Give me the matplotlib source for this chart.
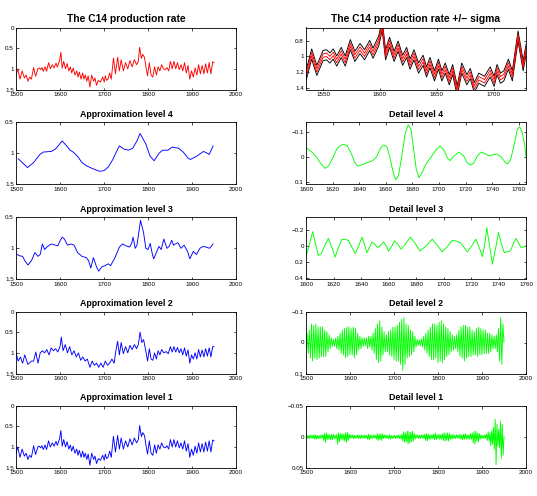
import numpy as np
import matplotlib
matplotlib.use("Agg")
import matplotlib.pyplot as plt

plt.rcParams['font.family'] = ['Liberation Sans', 'DejaVu Sans']

# C14 production rate (also used for approximation level 1)
sig_years = [1500, 1504, 1509, 1514, 1519, 1523, 1527, 1531, 1535, 1540,
             1544.5, 1550, 1553, 1556, 1559, 1562, 1566, 1569.5, 1574, 1578, 1582.5,
             1586.5, 1591, 1594, 1599, 1602, 1605, 1608.5, 1612.5, 1616, 1620, 1623.5,
             1626.5, 1630, 1634, 1638, 1641, 1644, 1648, 1651.5, 1654.5, 1657.5, 1661,
             1664, 1668, 1672, 1676.5, 1679.5, 1683, 1687, 1692, 1697, 1700.5, 1703,
             1706, 1709, 1713, 1716.5, 1721.5, 1726, 1731, 1735, 1739, 1744, 1749,
             1754, 1759, 1764, 1769, 1774, 1778, 1781, 1785, 1788, 1792, 1796, 1799,
             1803, 1807, 1811, 1815, 1819, 1823, 1827, 1831, 1835, 1839, 1843, 1847,
             1851, 1855, 1859, 1863, 1867, 1871, 1875, 1879, 1883, 1887, 1891, 1895,
             1899, 1903, 1907, 1911, 1915, 1919, 1923, 1927, 1931, 1935, 1939, 1943,
             1947, 1950]
sig_vals = [1.15, 1.0, 1.25, 1.05, 1.22, 1.15, 1.3, 1.2, 1.25, 0.97,
            1.18, 0.99, 0.98, 1.02, 0.97, 1.06, 0.95, 1.06, 0.85, 1.0, 0.9,
            0.98, 0.86, 0.96, 0.8, 0.6, 0.98, 0.82, 1.0, 0.87, 1.05, 0.95,
            1.1, 0.98, 1.15, 1.05, 1.2, 1.08, 1.25, 1.1, 1.25, 1.15, 1.3,
            1.17, 1.44, 1.15, 1.3, 1.22, 1.4, 1.28, 1.32, 1.2, 1.32, 1.17,
            1.28, 1.25, 1.1, 1.25, 0.74, 1.12, 0.72, 1.05, 0.78, 1.05, 0.85,
            1.0, 0.8, 0.95, 0.78, 0.9, 0.82, 0.48, 0.75, 0.65, 0.72, 1.0, 1.17,
            0.85, 1.15, 1.2, 0.95, 1.15, 0.95, 1.05, 0.9, 1.0, 1.02, 0.97, 1.05,
            0.82, 1.0, 0.82, 1.0, 0.85, 1.02, 0.9, 1.05, 0.85, 1.1, 0.92, 1.25,
            1.05, 1.2, 0.98, 1.15, 0.9, 1.12, 0.92, 1.12, 0.88, 1.1, 0.85, 1.12,
            0.83, 0.85]
sigma_outer = 0.065
sigma_inner = 0.022

# approximation level 4
a4_years = [1505, 1510, 1526, 1540, 1554, 1562, 1580, 1590, 1605, 1615, 1623, 1630,
            1640, 1650, 1660, 1675, 1690, 1700, 1710, 1720, 1730, 1735, 1745, 1755,
            1765, 1775, 1782, 1795, 1805, 1814, 1825, 1833, 1845, 1855, 1870, 1880,
            1890, 1896, 1910, 1920, 1926, 1935, 1939, 1948]
a4_vals = [1.09, 1.12, 1.23, 1.15, 1.02, 0.98, 0.97, 0.93, 0.8, 0.88, 0.95, 0.98,
           1.05, 1.15, 1.2, 1.25, 1.29, 1.28, 1.22, 1.1, 0.95, 0.88, 0.93, 0.95,
           0.92, 0.8, 0.68, 0.85, 1.05, 1.12, 1.0, 0.95, 0.95, 0.9, 0.92, 0.98,
           1.07, 1.1, 1.05, 1.0, 0.97, 1.0, 1.02, 0.88]

# approximation level 3
a3_years = [1503, 1508, 1515, 1520, 1527, 1535, 1543, 1550, 1555, 1560, 1565, 1570,
            1580, 1590, 1595, 1600, 1605, 1610, 1617, 1625, 1632, 1640, 1650, 1660,
            1665, 1670, 1676, 1683, 1688, 1695, 1702, 1710, 1715, 1725, 1735, 1742,
            1750, 1758, 1763, 1766, 1771, 1775, 1783, 1790, 1795, 1800, 1805, 1810,
            1813, 1820, 1825, 1830, 1836, 1843, 1848, 1854, 1858, 1862, 1868, 1875,
            1882, 1890, 1895, 1903, 1910, 1918, 1925, 1932, 1940, 1948]
a3_vals = [1.1, 1.12, 1.13, 1.2, 1.27, 1.2, 1.07, 1.13, 1.1, 0.93, 1.02, 0.98,
           0.93, 0.95, 0.96, 0.88, 0.82, 0.85, 0.95, 0.93, 0.95, 1.07, 1.13, 1.15,
           1.2, 1.32, 1.15, 1.3, 1.37, 1.3, 1.28, 1.25, 1.28, 1.15, 0.98, 0.93,
           0.96, 0.98, 0.92, 0.82, 1.0, 0.95, 0.55, 0.75, 1.0, 1.02, 0.92, 1.1,
           1.17, 1.05, 0.97, 1.02, 0.85, 1.0, 0.97, 0.87, 0.95, 0.93, 0.91, 1.0,
           0.95, 1.05, 1.17, 1.05, 1.1, 1.0, 0.97, 0.98, 1.0, 0.93]

# approximation level 2
a2_years = [1500, 1505, 1510, 1515, 1520, 1527, 1535, 1540, 1545, 1550, 1555, 1560,
            1565, 1570, 1575, 1580, 1585, 1590, 1595, 1600, 1603, 1607, 1612, 1617,
            1622, 1627, 1632, 1637, 1642, 1647, 1652, 1657, 1662, 1668, 1673, 1678,
            1683, 1688, 1693, 1698, 1703, 1708, 1713, 1718, 1723, 1727, 1731, 1735,
            1739, 1744, 1749, 1754, 1759, 1764, 1769, 1774, 1778, 1782, 1786, 1790,
            1795, 1799, 1803, 1807, 1811, 1815, 1819, 1823, 1827, 1831, 1836, 1841,
            1846, 1851, 1855, 1859, 1863, 1867, 1871, 1875, 1879, 1883, 1887, 1891,
            1895, 1899, 1903, 1907, 1911, 1915, 1919, 1923, 1927, 1931, 1935, 1939,
            1943, 1947, 1950]
a2_vals = [1.0, 1.2, 1.1, 1.25, 1.05, 1.28, 1.2, 1.2, 0.98, 1.25, 1.0, 0.95,
           1.0, 0.92, 1.05, 0.88, 0.95, 0.9, 0.98, 0.85, 0.62, 0.95, 0.8, 1.0,
           0.85, 1.05, 0.95, 1.1, 1.0, 1.18, 1.1, 1.2, 1.15, 1.35, 1.2, 1.3,
           1.25, 1.35, 1.25, 1.35, 1.2, 1.3, 1.25, 1.15, 1.25, 0.95, 0.72, 1.05,
           0.75, 1.02, 0.85, 1.0, 0.82, 0.92, 0.8, 0.9, 0.8, 0.5, 0.75, 0.68,
           0.95, 1.2, 0.9, 1.15, 1.18, 1.0, 1.15, 0.95, 1.05, 0.92, 1.0, 0.97,
           1.02, 0.85, 0.98, 0.85, 0.98, 0.87, 1.0, 0.9, 1.05, 0.88, 1.08, 0.93,
           1.25, 1.05, 1.15, 1.0, 1.15, 0.92, 1.1, 0.93, 1.1, 0.9, 1.08, 0.88,
           1.1, 0.85, 0.85]

# detail level 4
d4_years = [1600, 1604, 1608, 1611, 1614.4, 1617, 1620, 1623, 1625.5, 1628.2, 1631,
            1634, 1636.5, 1639, 1642, 1646, 1650, 1653, 1656, 1658.4, 1661, 1663.5,
            1665.5, 1667.5, 1669.5, 1672, 1674.5, 1676.8, 1679, 1681, 1683, 1685,
            1687.5, 1690, 1694, 1698, 1701, 1704, 1706.5, 1708.3, 1711.5, 1715,
            1718.5, 1721, 1723.4, 1726, 1729, 1732, 1735, 1738, 1741, 1743.6, 1747,
            1750, 1751.6, 1754, 1757, 1759, 1760.7, 1762.5, 1764.5, 1765.5]
d4_vals = [-0.038, -0.022, 0.0, 0.025, 0.045, 0.035, 0.005, -0.03, -0.045, -0.051, -0.045,
           -0.015, 0.02, 0.036, 0.03, 0.022, 0.015, 0.0, -0.035, -0.048, -0.04, 0.01,
           0.06, 0.09, 0.075, 0.0, -0.09, -0.128, -0.11, -0.03, 0.05, 0.082,
           0.06, 0.03, 0.0, -0.03, -0.044, -0.025, 0.005, 0.014, -0.005, -0.02,
           -0.005, 0.02, 0.032, 0.025, -0.005, -0.02, -0.012, -0.005, -0.01, -0.012, 0.0,
           0.022, 0.027, 0.01, -0.06, -0.11, -0.12, -0.1, -0.05, 0.0]

# detail level 3
d3_years = [1600, 1602.5, 1604.9, 1607, 1609, 1611, 1613.5, 1616.3, 1618.8, 1621.2,
            1623.6, 1626, 1628.5, 1631, 1633.5, 1635.8, 1638.3, 1640.7, 1642.5, 1644.3,
            1646.2, 1648, 1650, 1652, 1654.3, 1656.5, 1658.3, 1660, 1662.2, 1664.3,
            1666.8, 1669.2, 1672.5, 1676, 1679.5, 1682.8, 1687.3, 1691.8, 1695.5, 1699,
            1702.7, 1706.4, 1709.5, 1712.5, 1715, 1717.4, 1720.5, 1723.5, 1726, 1728.3,
            1730, 1731.5, 1733.5, 1735.6, 1738, 1740, 1742, 1744.2, 1746.4, 1748.6,
            1750.7, 1752.7, 1754.5, 1756.4, 1758, 1760]
d3_vals = [0.13, -0.02, -0.18, -0.02, 0.12, 0.10, 0.0, -0.095, 0.02, 0.14,
           0.02, -0.08, -0.085, -0.065, 0.02, 0.095, 0.0, -0.11, -0.02, 0.085,
           0.02, -0.05, -0.02, 0.02, -0.01, -0.05, 0.0, 0.065, 0.01, -0.065,
           -0.02, 0.04, -0.03, -0.11, -0.03, 0.065, 0.0, -0.085, -0.01, 0.075,
           0.01, -0.07, -0.06, -0.04, 0.02, 0.075, 0.0, -0.085, 0.02, 0.135,
           -0.02, -0.23, 0.0, 0.23, 0.02, -0.17, -0.03, 0.085, 0.07, 0.065,
           -0.02, -0.095, -0.04, 0.02, 0.015, 0.0]

# detail level 2, one value every 2.5 years from 1500 to 1950
d2_years = np.arange(1500, 1950.1, 2.5)
d2_vals = [0.01, -0.03, 0.035, -0.04, 0.05, -0.06, 0.06, -0.055,
           0.05, -0.06, 0.055, -0.05, 0.05, -0.05, 0.045, -0.05,
           0.045, -0.04, 0.045, -0.035, 0.03, -0.025, 0.02, -0.015,
           0.012, -0.01, 0.012, -0.015, 0.02, -0.02, 0.025, -0.03,
           0.035, -0.04, 0.04, -0.045, 0.05, -0.05, 0.045, -0.05,
           0.04, -0.045, 0.04, -0.05, 0.05, -0.045, 0.04, -0.03,
           0.025, -0.02, 0.02, -0.015, 0.012, -0.015, 0.01, -0.015,
           0.02, -0.02, 0.015, -0.02, 0.025, -0.03, 0.035, -0.045,
           0.055, -0.06, 0.065, -0.07, 0.06, -0.05, 0.04, -0.035,
           0.03, -0.025, 0.03, -0.035, 0.04, -0.04, 0.045, -0.05,
           0.055, -0.05, 0.06, -0.055, 0.06, -0.065, 0.07, -0.075,
           0.09, -0.08, 0.07, -0.06, 0.05, -0.055, 0.045, -0.04,
           0.04, -0.035, 0.03, -0.02, 0.015, -0.01, 0.01, -0.008,
           0.01, -0.012, 0.015, -0.02, 0.025, -0.03, 0.035, -0.04,
           0.045, -0.05, 0.055, -0.06, 0.055, -0.06, 0.05, -0.055,
           0.065, -0.065, 0.06, -0.07, 0.065, -0.06, 0.055, -0.05,
           0.045, -0.045, 0.04, -0.035, 0.03, -0.025, 0.025, -0.02,
           0.02, -0.025, 0.03, -0.04, 0.045, -0.05, 0.05, -0.055,
           0.06, -0.055, 0.05, -0.05, 0.045, -0.05, 0.045, -0.04,
           0.04, -0.035, 0.04, -0.045, 0.045, -0.05, 0.04, -0.045,
           0.04, -0.04, 0.035, -0.04, 0.035, -0.03, 0.035, -0.03,
           0.03, -0.025, 0.02, -0.02, 0.02, -0.025, 0.03, -0.045,
           0.06, -0.08, 0.07, -0.06, 0.0]

# detail level 1, one value every 2 years from 1500 to 1950
d1_years = np.arange(1500, 1951, 2)
d1_vals = [0.002, -0.003, 0.003, -0.002, 0.003, -0.003, 0.002, -0.002, 0.003, -0.003,
           0.004, -0.003, 0.004, -0.002, 0.003, -0.002, 0.003, -0.003, 0.002, -0.003,
           0.006, -0.005, 0.009, -0.006, 0.005, -0.004, 0.004, -0.003, 0.005, -0.004,
           0.005, -0.004, 0.003, -0.002, 0.003, -0.004, 0.012, -0.006, 0.008, -0.005,
           0.004, -0.005, 0.006, -0.004, 0.007, -0.006, 0.009, -0.007, 0.006, -0.004,
           0.003, -0.003, 0.002, -0.003, 0.003, -0.002, 0.003, -0.002, 0.002, -0.003,
           0.003, -0.002, 0.003, -0.003, 0.002, -0.002, 0.003, -0.003, 0.002, -0.002,
           0.004, -0.004, 0.005, -0.003, 0.003, -0.002, 0.003, -0.003, 0.002, -0.002,
           0.004, -0.005, 0.006, -0.004, 0.005, -0.005, 0.006, -0.004, 0.003, -0.003,
           0.002, -0.003, 0.003, -0.002, 0.003, -0.003, 0.004, -0.002, 0.003, -0.002,
           0.002, -0.002, 0.003, -0.002, 0.002, -0.003, 0.003, -0.002, 0.004, -0.004,
           0.007, -0.008, 0.009, -0.006, 0.008, -0.009, 0.012, -0.008, 0.01, -0.007,
           0.008, -0.009, 0.007, -0.005, 0.004, -0.003, 0.002, -0.003, 0.003, -0.002,
           0.003, -0.003, 0.002, -0.003, 0.003, -0.004, 0.006, -0.005, 0.007, -0.004,
           0.004, -0.003, 0.004, -0.003, 0.003, -0.004, 0.005, -0.006, 0.005, -0.003,
           0.003, -0.004, 0.004, -0.003, 0.004, -0.005, 0.006, -0.006, 0.007, -0.005,
           0.006, -0.006, 0.007, -0.005, 0.004, -0.003, 0.004, -0.004, 0.003, -0.002,
           0.003, -0.003, 0.002, -0.003, 0.003, -0.004, 0.004, -0.003, 0.005, -0.004,
           0.004, -0.005, 0.004, -0.003, 0.004, -0.003, 0.004, -0.005, 0.004, -0.006,
           0.01, -0.008, 0.012, -0.009, 0.007, -0.006, 0.008, -0.005, 0.004, -0.003,
           0.003, -0.002, 0.003, -0.003, 0.002, -0.004, 0.006, -0.008, 0.007, -0.006,
           0.015, -0.01, 0.012, -0.015, 0.02, -0.028, 0.045, -0.02, 0.015, -0.012,
           0.018, -0.025, 0.035, -0.02, 0.03, 0.0]

MINUS = "\u2212"
GREEN = "#00ff00"
year_ticks = [1500, 1600, 1700, 1800, 1900, 2000]
lev_ticks = [0, 0.5, 1, 1.5]
lev_ticks_b = [0.5, 1, 1.5]


def style(ax, title, big=False):
    ax.set_title(title, fontsize=7.4 if big else 6.4, fontweight='bold', pad=4)
    ax.tick_params(direction='in', length=1.8, width=0.5, labelsize=4.5, pad=1.6,
                   top=True, right=True)
    for s in ax.spines.values():
        s.set_linewidth(0.6)


def fmt(v):
    s = f"{v:g}"
    return s.replace("-", MINUS)


fig = plt.figure(figsize=(5.37, 4.96), dpi=100)
W, H = 537, 496
lx, rx = 16 / W, 306 / W
aw = 220 / W
tops = [27.5, 122.3, 217.3, 311.5, 405.7]
ah = 62 / H
axes = []
for t in tops:
    b = 1 - (t + 62) / H
    axes.append((fig.add_axes([lx, b, aw, ah]), fig.add_axes([rx, b, aw, ah])))

lw = 0.65

# row 1
ax = axes[0][0]
ax.plot(sig_years, sig_vals, color='red', lw=lw)
ax.set_xlim(1500, 2000)
ax.set_ylim(1.5, 0)
ax.set_yticks(lev_ticks, [fmt(v) for v in lev_ticks])
ax.set_xticks(year_ticks, [str(v) for v in year_ticks])
style(ax, "The C14 production rate", big=True)

ax = axes[0][1]
sv = np.array(sig_vals)
ax.plot(sig_years, sv - sigma_outer, color='black', lw=lw)
ax.plot(sig_years, sv + sigma_outer, color='black', lw=lw)
ax.plot(sig_years, sv - sigma_inner, color='red', lw=lw)
ax.plot(sig_years, sv + sigma_inner, color='red', lw=lw)
ax.set_xlim(1535, 1728.5)
ax.set_ylim(1.425, 0.63)
ax.set_yticks([0.8, 1, 1.2, 1.4], ["0.8", "1", "1.2", "1.4"])
ax.set_xticks([1550, 1600, 1650, 1700], ["1550", "1600", "1650", "1700"])
style(ax, "The C14 production rate +/\u2212 sigma", big=True)

# row 2
ax = axes[1][0]
ax.plot(a4_years, a4_vals, color='blue', lw=lw)
ax.set_xlim(1500, 2000)
ax.set_ylim(1.5, 0.5)
ax.set_yticks(lev_ticks_b, [fmt(v) for v in lev_ticks_b])
ax.set_xticks(year_ticks, [str(v) for v in year_ticks])
style(ax, "Approximation level 4")

ax = axes[1][1]
ax.plot(d4_years, d4_vals, color=GREEN, lw=lw)
ax.set_xlim(1600, 1765.5)
ax.set_ylim(0.108, -0.138)
ax.set_yticks([-0.1, 0, 0.1], [fmt(v) for v in [-0.1, 0, 0.1]])
d_ticks = list(range(1600, 1761, 20))
ax.set_xticks(d_ticks, [str(v) for v in d_ticks])
style(ax, "Detail level 4")

# row 3
ax = axes[2][0]
ax.plot(a3_years, a3_vals, color='blue', lw=lw)
ax.set_xlim(1500, 2000)
ax.set_ylim(1.5, 0.5)
ax.set_yticks(lev_ticks_b, [fmt(v) for v in lev_ticks_b])
ax.set_xticks(year_ticks, [str(v) for v in year_ticks])
style(ax, "Approximation level 3")

ax = axes[2][1]
ax.plot(d3_years, d3_vals, color=GREEN, lw=lw)
ax.set_xlim(1600, 1760)
ax.set_ylim(0.42, -0.36)
ax.set_yticks([-0.2, 0, 0.2, 0.4], [fmt(v) for v in [-0.2, 0, 0.2, 0.4]])
ax.set_xticks(d_ticks, [str(v) for v in d_ticks])
style(ax, "Detail level 3")

# row 4
ax = axes[3][0]
ax.plot(a2_years, a2_vals, color='blue', lw=lw)
ax.set_xlim(1500, 2000)
ax.set_ylim(1.5, 0)
ax.set_yticks(lev_ticks, [fmt(v) for v in lev_ticks])
ax.set_xticks(year_ticks, [str(v) for v in year_ticks])
style(ax, "Approximation level 2")

ax = axes[3][1]
ax.plot(d2_years, d2_vals, color=GREEN, lw=lw)
ax.set_xlim(1500, 2000)
ax.set_ylim(0.1, -0.1)
ax.set_yticks([-0.1, 0, 0.1], [fmt(v) for v in [-0.1, 0, 0.1]])
ax.set_xticks(year_ticks, [str(v) for v in year_ticks])
style(ax, "Detail level 2")

# row 5
ax = axes[4][0]
ax.plot(sig_years, sig_vals, color='blue', lw=lw)
ax.set_xlim(1500, 2000)
ax.set_ylim(1.5, 0)
ax.set_yticks(lev_ticks, [fmt(v) for v in lev_ticks])
ax.set_xticks(year_ticks, [str(v) for v in year_ticks])
style(ax, "Approximation level 1")

ax = axes[4][1]
ax.plot(d1_years, d1_vals, color=GREEN, lw=lw)
ax.set_xlim(1500, 2000)
ax.set_ylim(0.05, -0.05)
ax.set_yticks([-0.05, 0, 0.05], [fmt(v) for v in [-0.05, 0, 0.05]])
ax.set_xticks(year_ticks, [str(v) for v in year_ticks])
style(ax, "Detail level 1")

fig.savefig("out.png", dpi=100)
